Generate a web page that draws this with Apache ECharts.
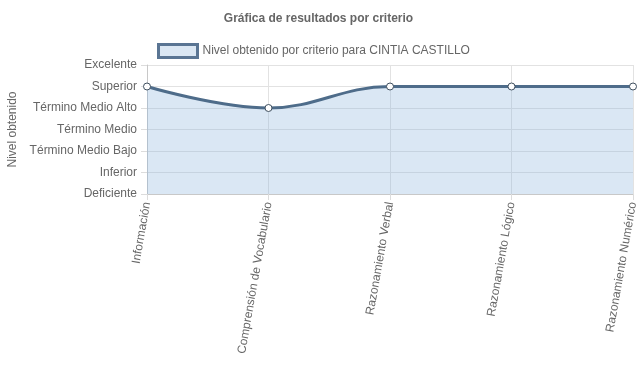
<!DOCTYPE html>
<html><head><meta charset="utf-8">
<script src="https://cdn.jsdelivr.net/npm/echarts@6/dist/echarts.min.js"></script>
<style>html,body{margin:0;padding:0;background:#fff}#c{width:637px;height:389px}</style>
</head><body><div id="c"></div>
<script>
const levels = ['Deficiente','Inferior','Término Medio Bajo','Término Medio','Término Medio Alto','Superior','Excelente'];
const categories = ['Información','Comprensión de Vocabulario','Razonamiento Verbal','Razonamiento Lógico','Razonamiento Numérico'];
const values = ['Superior','Término Medio Alto','Superior','Superior','Superior'];
const seriesName = 'Nivel obtenido por criterio para CINTIA CASTILLO';
const titleText = 'Gráfica de resultados por criterio';
const yName = 'Nivel obtenido';

const font = '"Liberation Sans", Arial, sans-serif';
const chart = echarts.init(document.getElementById('c'), null, {renderer:'canvas'});
chart.setOption({
  animation:false,
  textStyle:{fontFamily:font},
  title:{text:titleText,left:'center',top:8,textStyle:{fontSize:12,fontWeight:'bold',color:'#666',fontFamily:font}},
  legend:{data:[seriesName],top:43,left:157,padding:0,icon:'rect',itemWidth:39,itemHeight:13,itemGap:6,
    textStyle:{fontSize:12,color:'#666',fontFamily:font},
    itemStyle:{color:'#dbe7f3',borderColor:'#5a7593',borderWidth:3}},
  grid:{left:147,right:4,top:65,bottom:195,containLabel:false,outerBoundsMode:'none'},
  xAxis:{type:'category',data:categories,boundaryGap:false,
    axisLine:{show:true,lineStyle:{color:'#c8c8c8'}},
    axisTick:{show:true,length:6,lineStyle:{color:'#dcdcdc'}},
    splitLine:{show:true,lineStyle:{color:'#e2e2e2'}},
    axisLabel:{rotate:80,margin:8,fontSize:12,color:'#666',fontFamily:font}},
  yAxis:{type:'category',data:levels,boundaryGap:false,
    name:yName,nameLocation:'middle',nameGap:128,nameRotate:90,
    nameTextStyle:{fontSize:12,color:'#666',fontFamily:font},
    axisLine:{show:true,lineStyle:{color:'#c8c8c8'}},
    axisTick:{show:true,length:6,lineStyle:{color:'#dcdcdc'}},
    splitLine:{show:true,lineStyle:{color:'#e2e2e2'}},
    axisLabel:{margin:10,fontSize:12,color:'#666',fontFamily:font}},
  series:[{name:seriesName,type:'line',data:values,smooth:0.4,
    symbol:'circle',symbolSize:7,
    lineStyle:{width:3,color:'#4e6c8a'},
    itemStyle:{color:'#ffffff',borderColor:'#3f4f5f',borderWidth:1},
    areaStyle:{color:'rgba(140,180,220,0.32)',opacity:1,origin:'start'}}]
});
</script></body></html>
